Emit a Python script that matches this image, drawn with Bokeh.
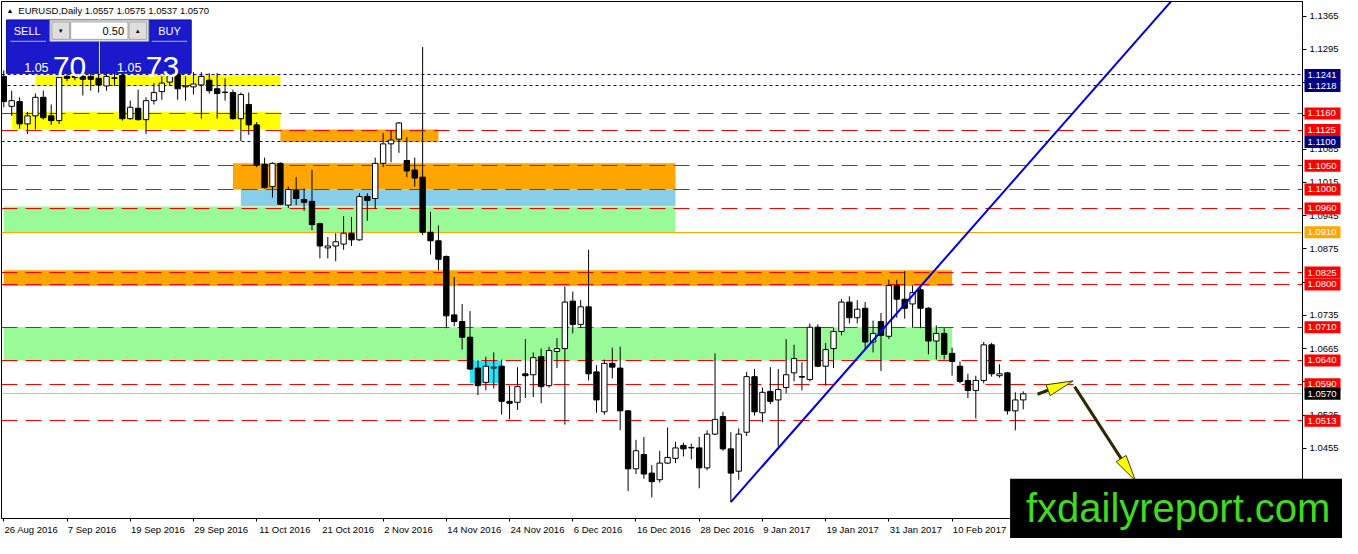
import math
from bokeh.plotting import figure
from bokeh.models import Label, FixedTicker, PrintfTickFormatter, CustomJSTickFormatter
from bokeh.core.properties import value
from bokeh.embed import file_html
from bokeh.resources import INLINE

# ---------------- data ----------------
chart_title = "EURUSD,Daily 1.0557 1.0575 1.0537 1.0570"

opens = [1.1238, 1.1175, 1.1185, 1.1138, 1.1155, 1.1194, 1.1155, 1.1145, 1.1238, 1.1238,
         1.1238, 1.1238, 1.1234, 1.1218, 1.1235, 1.1240, 1.1149, 1.1171, 1.1147, 1.1187,
         1.1206, 1.1226, 1.1243, 1.1216, 1.1216, 1.1220, 1.1230, 1.1212, 1.1205, 1.1204,
         1.1149, 1.1179, 1.1136, 1.1053, 1.1006, 1.1055, 1.0967, 1.0998, 1.0979, 1.0975,
         1.0928, 1.0877, 1.0881, 1.0885, 1.0908, 1.0894, 1.0985, 1.0981, 1.1055, 1.1096,
         1.1106, 1.1061, 1.1041, 1.1026, 1.0910, 1.0892, 1.0859, 1.0736, 1.0722, 1.0689,
         1.0624, 1.0594, 1.0624, 1.0628, 1.0554, 1.0552, 1.0612, 1.0610, 1.0648, 1.0587,
         1.0659, 1.0665, 1.0765, 1.0716, 1.0753, 1.0616, 1.0532, 1.0634, 1.0624, 1.0534,
         1.0412, 1.0442, 1.0403, 1.0389, 1.0424, 1.0434, 1.0461, 1.0456, 1.0456, 1.0414,
         1.0485, 1.0522, 1.0454, 1.0407, 1.0489, 1.0606, 1.0530, 1.0575, 1.0557, 1.0583,
         1.0614, 1.0606, 1.0600, 1.0710, 1.0628, 1.0665, 1.0701, 1.0763, 1.0730, 1.0750,
         1.0679, 1.0722, 1.0691, 1.0798, 1.0769, 1.0759, 1.0789, 1.0750, 1.0681, 1.0697,
         1.0655, 1.0628, 1.0598, 1.0577, 1.0598, 1.0673, 1.0608, 1.0614, 1.0534, 1.0557]
highs = [1.1251, 1.1208, 1.1194, 1.1163, 1.1202, 1.1208, 1.1179, 1.1255, 1.1251, 1.1247,
         1.1247, 1.1247, 1.1245, 1.1251, 1.1255, 1.1255, 1.1187, 1.1210, 1.1194, 1.1224,
         1.1238, 1.1251, 1.1251, 1.1238, 1.1247, 1.1247, 1.1245, 1.1245, 1.1234, 1.1210,
         1.1204, 1.1204, 1.1142, 1.1067, 1.1057, 1.1057, 1.1006, 1.1026, 1.1002, 1.1041,
         1.0930, 1.0900, 1.0908, 1.0944, 1.0942, 1.0992, 1.0992, 1.1067, 1.1119, 1.1124,
         1.1142, 1.1110, 1.1067, 1.1300, 1.0953, 1.0924, 1.0861, 1.0816, 1.0759, 1.0744,
         1.0640, 1.0648, 1.0657, 1.0642, 1.0587, 1.0626, 1.0685, 1.0657, 1.0665, 1.0669,
         1.0687, 1.0796, 1.0785, 1.0767, 1.0873, 1.0630, 1.0642, 1.0667, 1.0669, 1.0536,
         1.0473, 1.0479, 1.0420, 1.0450, 1.0499, 1.0469, 1.0467, 1.0465, 1.0479, 1.0493,
         1.0655, 1.0532, 1.0489, 1.0497, 1.0616, 1.0622, 1.0583, 1.0626, 1.0622, 1.0685,
         1.0673, 1.0636, 1.0718, 1.0716, 1.0677, 1.0708, 1.0769, 1.0775, 1.0767, 1.0763,
         1.0724, 1.0740, 1.0810, 1.0810, 1.0828, 1.0798, 1.0794, 1.0752, 1.0714, 1.0708,
         1.0667, 1.0638, 1.0612, 1.0608, 1.0679, 1.0677, 1.0632, 1.0616, 1.0573, 1.0575]
lows = [1.1173, 1.1155, 1.1128, 1.1117, 1.1126, 1.1147, 1.1136, 1.1138, 1.1228, 1.1230,
        1.1198, 1.1208, 1.1204, 1.1208, 1.1218, 1.1145, 1.1147, 1.1145, 1.1117, 1.1179,
        1.1189, 1.1218, 1.1189, 1.1187, 1.1200, 1.1149, 1.1202, 1.1149, 1.1187, 1.1147,
        1.1102, 1.1115, 1.1047, 1.1002, 1.0983, 1.0967, 1.0961, 1.0967, 1.0955, 1.0914,
        1.0855, 1.0855, 1.0849, 1.0873, 1.0881, 1.0892, 1.0934, 1.0959, 1.1047, 1.1057,
        1.1077, 1.1026, 1.1006, 1.0904, 1.0863, 1.0830, 1.0708, 1.0712, 1.0663, 1.0620,
        1.0567, 1.0577, 1.0581, 1.0526, 1.0516, 1.0536, 1.0561, 1.0563, 1.0550, 1.0583,
        1.0624, 1.0505, 1.0697, 1.0709, 1.0598, 1.0530, 1.0526, 1.0602, 1.0493, 1.0365,
        1.0401, 1.0391, 1.0352, 1.0383, 1.0422, 1.0424, 1.0438, 1.0432, 1.0371, 1.0409,
        1.0483, 1.0450, 1.0342, 1.0389, 1.0481, 1.0524, 1.0510, 1.0548, 1.0459, 1.0571,
        1.0596, 1.0577, 1.0596, 1.0626, 1.0587, 1.0624, 1.0693, 1.0718, 1.0718, 1.0665,
        1.0657, 1.0618, 1.0685, 1.0730, 1.0728, 1.0709, 1.0708, 1.0653, 1.0642, 1.0642,
        1.0608, 1.0592, 1.0561, 1.0518, 1.0592, 1.0606, 1.0604, 1.0526, 1.0493, 1.0537]
closes = [1.1185, 1.1187, 1.1138, 1.1155, 1.1194, 1.1151, 1.1145, 1.1236, 1.1234, 1.1236,
          1.1232, 1.1232, 1.1220, 1.1238, 1.1234, 1.1149, 1.1173, 1.1147, 1.1187, 1.1204,
          1.1224, 1.1238, 1.1212, 1.1218, 1.1222, 1.1238, 1.1208, 1.1202, 1.1204, 1.1149,
          1.1200, 1.1136, 1.1051, 1.1004, 1.1055, 1.0969, 1.1000, 1.0981, 1.0973, 1.0926,
          1.0881, 1.0881, 1.0890, 1.0908, 1.0894, 1.0985, 1.0977, 1.1055, 1.1096, 1.1104,
          1.1140, 1.1039, 1.1024, 1.0910, 1.0892, 1.0853, 1.0734, 1.0722, 1.0689, 1.0622,
          1.0587, 1.0628, 1.0626, 1.0554, 1.0550, 1.0585, 1.0608, 1.0646, 1.0585, 1.0661,
          1.0665, 1.0763, 1.0716, 1.0753, 1.0612, 1.0557, 1.0634, 1.0626, 1.0534, 1.0412,
          1.0450, 1.0401, 1.0385, 1.0424, 1.0436, 1.0456, 1.0454, 1.0457, 1.0414, 1.0485,
          1.0516, 1.0454, 1.0403, 1.0485, 1.0606, 1.0532, 1.0573, 1.0554, 1.0579, 1.0610,
          1.0644, 1.0605, 1.0710, 1.0628, 1.0663, 1.0701, 1.0763, 1.0730, 1.0748, 1.0679,
          1.0697, 1.0693, 1.0798, 1.0769, 1.0750, 1.0783, 1.0750, 1.0681, 1.0697, 1.0653,
          1.0638, 1.0596, 1.0577, 1.0598, 1.0673, 1.0612, 1.0612, 1.0534, 1.0557, 1.0570]

date_tick_bars = [0, 8, 16, 24, 32, 40, 48, 56, 64, 72, 80, 88, 96, 104, 112, 120]
date_labels = ["26 Aug 2016", "7 Sep 2016", "19 Sep 2016", "29 Sep 2016", "11 Oct 2016",
               "21 Oct 2016", "2 Nov 2016", "14 Nov 2016", "24 Nov 2016", "6 Dec 2016",
               "16 Dec 2016", "28 Dec 2016", "9 Jan 2017", "19 Jan 2017", "31 Jan 2017",
               "10 Feb 2017"]

price_ticks = [1.0385, 1.0455, 1.0525, 1.0595, 1.0665, 1.0735, 1.0805, 1.0875,
               1.0945, 1.1015, 1.1085, 1.1155, 1.1225, 1.1295, 1.1365]

navy_levels = [1.1241, 1.1218, 1.1100]
red_levels = [1.1160, 1.1125, 1.1050, 1.1000, 1.0960, 1.0825, 1.0800,
              1.0710, 1.0640, 1.0590, 1.0513]
orange_levels = [1.0910]
current_price = [1.0570]

zone_left = [4, 1, 35, 29, 30, 0, 0, 0, 59]
zone_right = [35, 35, 55, 85, 85, 85, 120, 120, 63]
zone_bottom = [1.1218, 1.1127, 1.1100, 1.1000, 1.0965, 1.0910, 1.0797, 1.0640, 1.0592]
zone_top = [1.1241, 1.1163, 1.1126, 1.1055, 1.1000, 1.0964, 1.0830, 1.0710, 1.0640]
zone_colors = ["#ffff00", "#ffff00", "#ffa500", "#ffa500", "#87ceeb",
               "#98fb98", "#ffa500", "#98fb98", "#22e6ff"]

trend_bars = [92, 147.5]
trend_prices = [1.0342, 1.1392]

arrow_x0 = [130.8, 135.5]
arrow_y0 = [1.0569, 1.0585]
arrow_x1 = [135.3, 143.2]
arrow_y1 = [1.0597, 1.0387]

watermark = "fxdailyreport.com"

# ---------------- figure ----------------
W, H = 1342, 538
X_START, X_END = -0.29, 164.34
Y_START, Y_END = 1.03074, 1.13957
FRAME_W = W - 40 - 1
PX_PER_BAR = FRAME_W / (X_END - X_START)

p = figure(width=W, height=H, x_range=(X_START, X_END), y_range=(Y_START, Y_END),
           output_backend="svg", toolbar_location=None,
           y_axis_location="right", x_axis_location="below")
p.min_border_left = 1
p.min_border_top = 1
p.min_border_right = 40
p.min_border_bottom = 20
p.xgrid.visible = False
p.ygrid.visible = False
p.outline_line_color = "black"
p.background_fill_color = "white"
p.border_fill_color = "white"

FONT = "Liberation Sans"


# reference-pixel helpers for decorations (panel etc.)
def X(px):
    return (px - 3.3) / 8.0


def Y(py):
    return 1.13977 - py * 0.00020417


# zones (background rectangles)
p.quad(left=zone_left, right=zone_right, bottom=zone_bottom, top=zone_top,
       fill_color=zone_colors, line_color=None)

# horizontal levels
p.hspan(y=navy_levels, line_color="#000080", line_dash="3 3", line_width=1)
p.hspan(y=red_levels, line_color="#ff0000", line_dash="16 8", line_width=1)
p.hspan(y=orange_levels, line_color="#ffa500", line_width=1)
p.hspan(y=current_price, line_color="#c0c0c0", line_width=1)

# candles
idx = list(range(len(opens)))
body_top = [max(o, c) for o, c in zip(opens, closes)]
body_bot = [min(o, c) for o, c in zip(opens, closes)]
body_col = ["white" if c >= o else "black" for o, c in zip(opens, closes)]
p.segment(x0=idx, y0=highs, x1=idx, y1=lows, line_color="black", line_width=1)
p.vbar(x=idx, width=0.68, top=body_top, bottom=body_bot, fill_color=body_col,
       line_color="black", line_width=1)

# trend line (ray)
slope = (trend_prices[1] - trend_prices[0]) / (trend_bars[1] - trend_bars[0])
ray_end = X_END + 5
p.line([trend_bars[0], ray_end],
       [trend_prices[0], trend_prices[0] + slope * (ray_end - trend_bars[0])],
       line_color="#0000dd", line_width=2)

# arrows
SX, SY = 8.0, 1 / 0.00020417
for x0, y0, x1, y1 in zip(arrow_x0, arrow_y0, arrow_x1, arrow_y1):
    dx, dy = (x1 - x0) * SX, (y1 - y0) * SY
    n = math.hypot(dx, dy)
    ux, uy = dx / n, dy / n
    hl, hw = 27, 6
    bx, by = x1 * SX - ux * hl, y1 * SY - uy * hl
    qx, qy = -uy, ux
    hx = [x1, (bx + qx * hw) / SX, (bx - qx * hw) / SX]
    hy = [y1, (by + qy * hw) / SY, (by - qy * hw) / SY]
    p.line([x0, bx / SX], [y0, by / SY], line_color="#2a2a00", line_width=3)
    p.patch(hx, hy, fill_color="#ffff00", line_color="#3a3a00", line_width=1)

# one-click trading panel
p.quad(left=[X(6), X(101)], right=[X(99), X(193)], top=[Y(20), Y(20)],
       bottom=[Y(75), Y(75)], fill_color="#1a1acc", line_color="#0c0c90")
p.quad(left=[X(50)], right=[X(150)], top=[Y(20)], bottom=[Y(42)],
       fill_color="#f0f0f0", line_color="#9a9a9a")
p.quad(left=[X(52), X(71), X(130)], right=[X(70), X(129), X(148)],
       top=[Y(22)] * 3, bottom=[Y(40)] * 3,
       fill_color=["#dedede", "white", "#dedede"], line_color="#a0a0a0")
p.segment(x0=[X(10), X(153)], y0=[Y(42), Y(42)], x1=[X(46), X(189)], y1=[Y(42), Y(42)],
          line_color="#a8b0ff", line_width=1)

labels = [
    dict(x=X(27), y=Y(31), text="SELL", text_font_size="11px", text_color="white",
         text_align="center", text_baseline="middle"),
    dict(x=X(171), y=Y(31), text="BUY", text_font_size="11px", text_color="white",
         text_align="center", text_baseline="middle"),
    dict(x=X(125), y=Y(31), text="0.50", text_font_size="11px", text_color="black",
         text_align="right", text_baseline="middle"),
    dict(x=X(61), y=Y(31), text="▼", text_font_size="6px", text_color="black",
         text_align="center", text_baseline="middle"),
    dict(x=X(139), y=Y(31), text="▲", text_font_size="6px", text_color="black",
         text_align="center", text_baseline="middle"),
    dict(x=X(24), y=Y(69), text="1.05", text_font_size="12.5px", text_color="white",
         text_align="left", text_baseline="alphabetic"),
    dict(x=X(53), y=Y(69), text="70", text_font_size="30px", text_color="white",
         text_align="left", text_baseline="alphabetic"),
    dict(x=X(118), y=Y(69), text="1.05", text_font_size="12.5px", text_color="white",
         text_align="left", text_baseline="alphabetic"),
    dict(x=X(147), y=Y(69), text="73", text_font_size="30px", text_color="white",
         text_align="left", text_baseline="alphabetic"),
    dict(x=X(6), y=Y(10), text="▲", text_font_size="7px", text_color="black",
         text_align="left", text_baseline="middle"),
    dict(x=X(18), y=Y(10), text=chart_title, text_font_size="9.5px", text_color="black",
         text_align="left", text_baseline="middle"),
]
for kw in labels:
    p.add_layout(Label(text_font=FONT, **kw))

# axes
centers = []
cw = {" ": 0.278, "A": 0.667, "S": 0.667, "O": 0.778, "N": 0.722, "D": 0.722,
      "J": 0.5, "F": 0.611}
for k, s in zip(date_tick_bars, date_labels):
    wpx = sum(cw.get(ch, 0.556 if ch.isdigit() else 0.53) for ch in s) * 9.5
    centers.append(round(k + (wpx / 2 + 1) / PX_PER_BAR, 4))

p.xaxis.ticker = FixedTicker(ticks=centers, minor_ticks=date_tick_bars)
p.xaxis.formatter = CustomJSTickFormatter(
    args=dict(pos=centers, names=date_labels),
    code="for (let i = 0; i < pos.length; i++) { if (Math.abs(pos[i] - tick) < 1e-6) return names[i]; } return '';")
p.xaxis.major_tick_out = 0
p.xaxis.major_tick_in = 0
p.xaxis.minor_tick_out = 3
p.xaxis.minor_tick_in = 0
p.xaxis.major_label_standoff = 2
p.xaxis.axis_line_color = "black"
p.xaxis.minor_tick_line_color = "black"
p.xaxis.major_label_text_font = FONT
p.xaxis.major_label_text_font_size = "9.5px"
p.xaxis.major_label_text_color = "black"

p.yaxis.ticker = FixedTicker(ticks=price_ticks)
p.yaxis.formatter = PrintfTickFormatter(format="%.4f")
p.yaxis.major_tick_out = 4
p.yaxis.major_tick_in = 0
p.yaxis.minor_tick_out = 0
p.yaxis.minor_tick_in = 0
p.yaxis.major_label_standoff = 3
p.yaxis.axis_line_color = "black"
p.yaxis.major_tick_line_color = "black"
p.yaxis.major_label_text_font = FONT
p.yaxis.major_label_text_font_size = "9.5px"
p.yaxis.major_label_text_color = "black"

# coloured price labels on the right axis (overlay level, drawn over the axis)
lvl_vals, lvl_cols = [], []
for levels, bg in [(navy_levels, "#000080"), (red_levels, "#ff0000"),
                   (orange_levels, "#ffa500"), (current_price, "#000000")]:
    for lv in levels:
        lvl_vals.append(lv)
        lvl_cols.append(bg)
box_left = X_END + 2 / PX_PER_BAR
box_w = 36 / PX_PER_BAR
p.rect(x=[box_left + box_w / 2] * len(lvl_vals), y=lvl_vals, width=36, height=12,
       width_units="screen", height_units="screen", fill_color=lvl_cols,
       line_color=None, level="overlay")
p.text(x=[box_left + 3 / PX_PER_BAR] * len(lvl_vals), y=lvl_vals,
       text=["%.4f" % v for v in lvl_vals], text_color="white",
       text_font=value(FONT), text_font_size=value("9.5px"),
       text_align="left", text_baseline="middle", level="overlay")

# watermark box
p.quad(left=[X(1022)], right=[X(1420)], top=[Y(493)], bottom=[Y(600)],
       fill_color="black", line_color=None, level="overlay")
p.text(x=[X(1038)], y=[Y(523)], text=[watermark], text_color="#3edc1e",
       text_font=value(FONT), text_font_size=value("40px"),
       text_align="left", text_baseline="middle", level="overlay")

open("out.html", "w").write(file_html(p, INLINE))
